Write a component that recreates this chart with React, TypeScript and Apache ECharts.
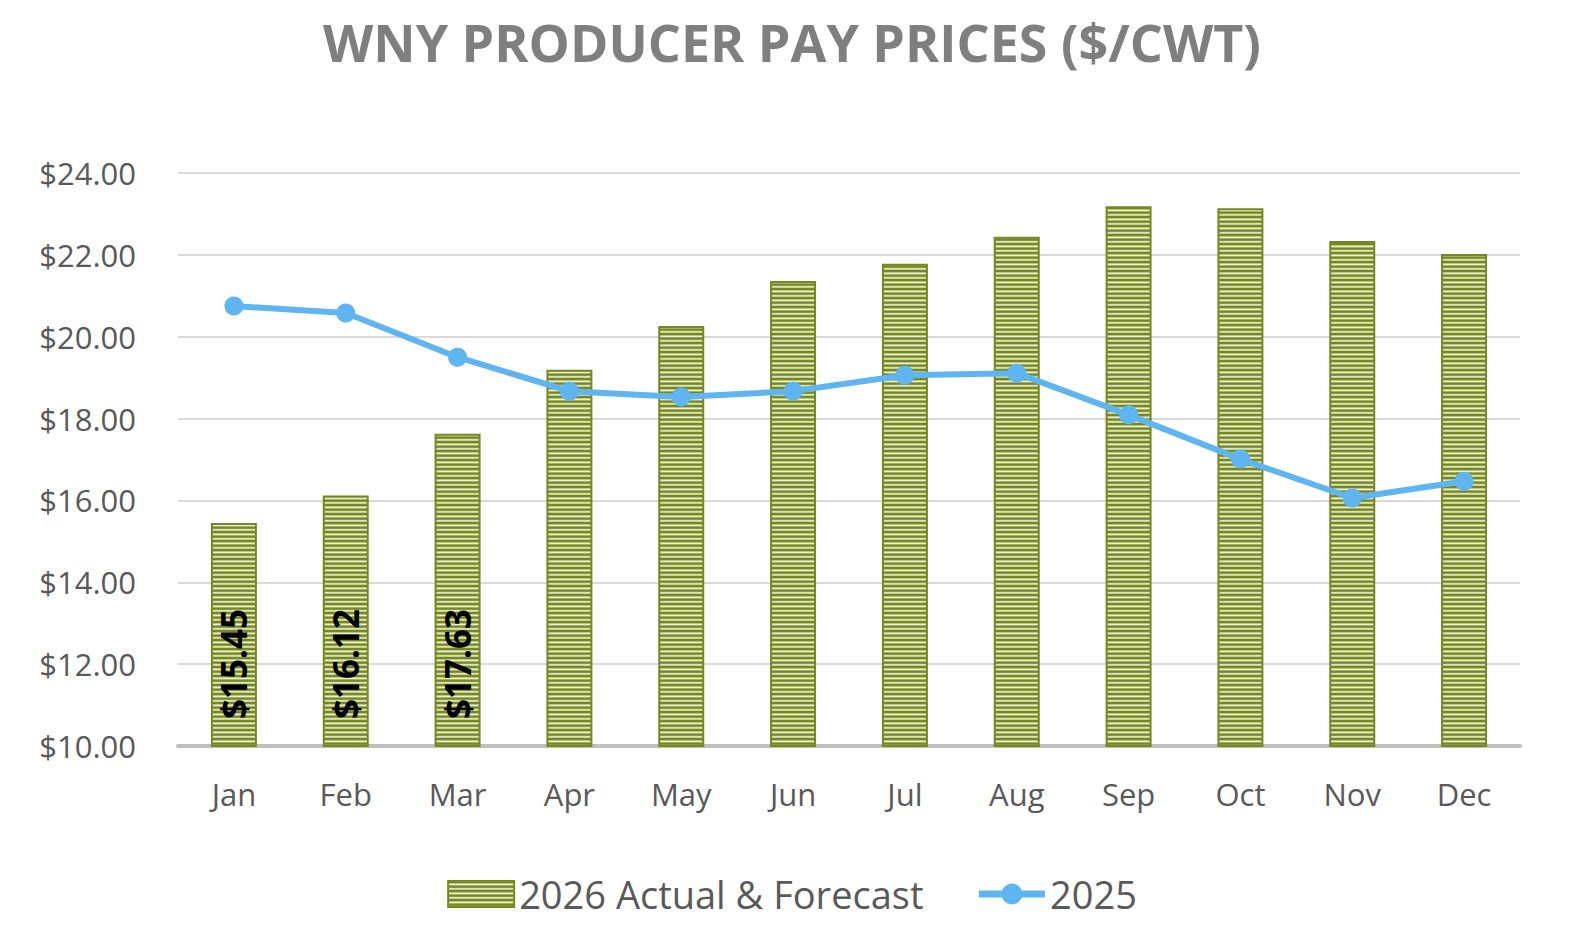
import React, { useEffect, useRef } from 'react';
import * as echarts from 'echarts';

const months = ['Jan', 'Feb', 'Mar', 'Apr', 'May', 'Jun', 'Jul', 'Aug', 'Sep', 'Oct', 'Nov', 'Dec'];
// 2026 actual & forecast (bars)
const forecast2026 = [15.45, 16.12, 17.63, 19.19, 20.26, 21.36, 21.78, 22.44, 23.19, 23.14, 22.34, 22.02];
// only the actuals get a label
const labelledCount = 3;
// 2025 (line)
const prices2025 = [20.75, 20.58, 19.5, 18.67, 18.53, 18.67, 19.06, 19.11, 18.09, 17.01, 16.06, 16.47];

const OLIVE = '#76881f';
const BLUE = '#5fb5f1';

function stripePattern() {
  const c = document.createElement('canvas');
  c.width = 4;
  c.height = 9;
  const ctx = c.getContext('2d')!;
  for (const y0 of [0, 4.5]) {
    const g = ctx.createLinearGradient(0, y0, 0, y0 + 4.5);
    g.addColorStop(0, OLIVE);
    g.addColorStop(0.4, OLIVE);
    g.addColorStop(0.55, '#b9c47c');
    g.addColorStop(0.75, '#f4f7e4');
    g.addColorStop(1, '#a3b05c');
    ctx.fillStyle = g;
    ctx.fillRect(0, y0, 4, 4.5);
  }
  return c;
}

const App = () => {
  const chartRef = useRef(null);

  useEffect(() => {
    document.body.style.margin = '0';
    document.body.style.overflow = 'hidden';
    const chart = echarts.init(chartRef.current, null, { renderer: 'svg' });
    const pattern = { image: stripePattern(), repeat: 'repeat' };

    chart.setOption({
      animation: false,
      backgroundColor: '#ffffff',
      title: {
        text: 'WNY PRODUCER PAY PRICES ($/CWT)',
        left: 'center',
        top: 10,
        textStyle: {
          fontFamily: 'Open Sans',
          fontWeight: 'bold',
          fontSize: 52,
          color: '#7f7f7f',
        },
      },
      legend: {
        bottom: 22,
        left: 'center',
        itemGap: 52,
        itemWidth: 66,
        itemHeight: 26,
        textStyle: { fontFamily: 'Open Sans', fontSize: 38, color: '#595959' },
        data: [
          { name: '2026 Actual & Forecast', icon: 'rect' },
          { name: '2025', lineStyle: { width: 7 } },
        ],
      },
      grid: { left: 178, right: 64, top: 173, bottom: 194 },
      xAxis: {
        type: 'category',
        data: months,
        axisTick: { show: false },
        axisLine: { lineStyle: { color: '#bfbfbf', width: 4 } },
        axisLabel: { fontFamily: 'Open Sans', fontSize: 31, color: '#595959', margin: 32 },
      },
      yAxis: {
        type: 'value',
        min: 10,
        max: 24,
        interval: 2,
        axisLine: { show: false },
        axisTick: { show: false },
        splitLine: { lineStyle: { color: '#d9d9d9', width: 2 } },
        axisLabel: {
          fontFamily: 'Open Sans',
          fontSize: 31,
          color: '#595959',
          margin: 42,
          formatter: (v: number) => '$' + v.toFixed(2),
        },
      },
      series: [
        {
          name: '2026 Actual & Forecast',
          type: 'bar',
          barWidth: 46,
          data: forecast2026.map((v, i) => ({
            value: v,
            label: { show: i < labelledCount },
          })),
          itemStyle: { color: pattern, borderColor: OLIVE, borderWidth: 2 },
          label: {
            position: 'insideBottom',
            rotate: 90,
            align: 'left',
            verticalAlign: 'middle',
            distance: 28,
            fontFamily: 'Open Sans',
            fontWeight: 'bold',
            fontSize: 35,
            color: '#000000',
            formatter: (p: any) => '$' + p.value.toFixed(2),
          },
        },
        {
          name: '2025',
          type: 'line',
          data: prices2025,
          symbol: 'circle',
          symbolSize: 19,
          lineStyle: { color: BLUE, width: 6 },
          itemStyle: { color: BLUE },
          z: 3,
        },
      ],
    });

    return () => {
      chart.dispose();
    };
  }, []);

  return (
    <div
      ref={chartRef}
      style={{ position: 'fixed', left: 0, top: 0, width: '100vw', height: '100vh' }}
    />
  );
};

export default App;
